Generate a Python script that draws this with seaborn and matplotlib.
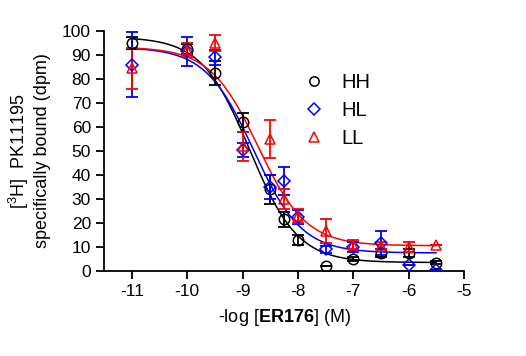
import numpy as np
import pandas as pd
import matplotlib
matplotlib.use("Agg")
import matplotlib.pyplot as plt
import seaborn as sns

# ================================
# Datos
# ================================
log_conc = [-11, -10, -9.5, -9, -8.5, -8.25, -8, -7.5, -7, -6.5, -6, -5.5]

hh_mean = [95, 92.5, 82.5, 62, 34, 21.5, 13, 2, 5, 7.5, 7.5, 3.5]
hh_err = [2.5, 2, 5, 4, 6, 3, 2, 0, 1, 1.5, 1.5, 0.5]

hl_mean = [86, 91.5, 89, 50.5, 35, 37.5, 22.5, 9, 10, 11.5, 2.5, 0.5]
hl_err = [13.5, 6, 3, 3, 5, 6, 3, 1.5, 2, 5, 0, 0]

ll_mean = [84.5, 92, 95, 52, 55, 30, 23, 16.5, 11, 10.5, 10, 11]
ll_err = [8.5, 3, 3.5, 6, 8, 4, 3, 5, 2, 1.5, 2, 0]

# parámetros de la curva sigmoidal (top, bottom, logIC50)
groups = ["HH", "HL", "LL"]
tops = [97.5, 93.2, 93.3]
bottoms = [3.5, 7.5, 10.5]
log_ic50 = [-8.87, -8.80, -8.72]
colors = ["black", "blue", "red"]
markers = ["o", "D", "^"]

# ================================
# Estilo
# ================================
sns.set_style("ticks")
plt.rcParams["font.family"] = ["Liberation Sans", "DejaVu Sans"]
plt.rcParams["axes.unicode_minus"] = False
plt.rcParams["mathtext.fontset"] = "custom"
plt.rcParams["mathtext.rm"] = "Liberation Sans"
plt.rcParams["mathtext.bf"] = "Liberation Sans:bold"
plt.rcParams["text.color"] = "black"
plt.rcParams["axes.labelcolor"] = "black"
plt.rcParams["xtick.color"] = "black"
plt.rcParams["ytick.color"] = "black"

fig = plt.figure(figsize=(5.26, 3.56), dpi=100)
ax = fig.add_axes([0.198, 0.239, 0.684, 0.674])

means = [hh_mean, hl_mean, ll_mean]
errs = [hh_err, hl_err, ll_err]

xs = np.linspace(-11, -5.5, 300)
for g, top, bot, ic, col in zip(groups, tops, bottoms, log_ic50, colors):
    curve = pd.DataFrame({"x": xs, "y": bot + (top - bot) / (1 + 10 ** (xs - ic))})
    sns.lineplot(data=curve, x="x", y="y", color=col, lw=1.1, ax=ax)

for g, m, e, col, mk in zip(groups, means, errs, colors, markers):
    ax.errorbar(log_conc, m, yerr=e, fmt="none", ecolor=col, elinewidth=1.3,
                capsize=4.5, capthick=1.3, zorder=3)
    sz = 6.5 if mk == "D" else 7.5
    ax.plot(log_conc, m, linestyle="none", marker=mk, markersize=sz,
            markerfacecolor="none", markeredgecolor=col, markeredgewidth=1.1,
            label=g, zorder=4)

ax.set_xlim(-11.5, -5)
ax.set_ylim(0, 100)
ax.set_xticks([-11, -10, -9, -8, -7, -6, -5])
ax.set_yticks(range(0, 101, 10))
ax.tick_params(labelsize=12.5, width=1.3, length=6, color="black")
for s in ["left", "bottom"]:
    ax.spines[s].set_linewidth(1.3)
    ax.spines[s].set_color("black")
sns.despine(ax=ax)

ax.set_xlabel(r"-log [$\mathbf{ER176}$] (M)", fontsize=13, labelpad=6)
ax.set_ylabel("[$^{3}$H]  PK11195\nspecifically bound (dpm)", fontsize=13, labelpad=8)

ax.legend(loc="upper left", bbox_to_anchor=(0.50, 0.90), frameon=False,
          fontsize=14.5, handletextpad=0.75, labelspacing=0.45, handlelength=1.2,
          markerscale=0.9)

fig.savefig("out.png", dpi=100)
